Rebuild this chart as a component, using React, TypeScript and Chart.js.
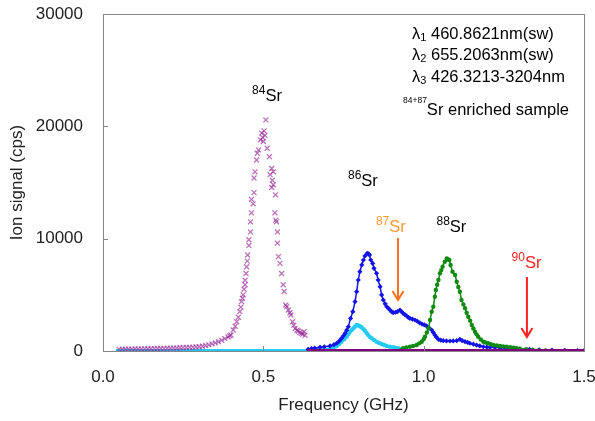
import { useEffect, useRef } from "react";
import { Chart, registerables } from "chart.js";
Chart.register(...registerables);

const FONT = "'Liberation Sans', Arial, sans-serif";

const xTickValues = [0, 0.5, 1.0, 1.5];
const yTickValues = [0, 10000, 20000, 30000];

// 84Sr (purple crosses)
const sr84: [number, number][] = [
  [0.05, 150], [0.06, 155], [0.07, 160], [0.08, 165], [0.09, 170], [0.10, 180], [0.11, 185], [0.12, 190],
  [0.13, 195], [0.14, 200], [0.15, 210], [0.16, 215], [0.17, 220], [0.18, 230], [0.19, 235], [0.20, 240],
  [0.21, 250], [0.22, 260], [0.23, 270], [0.24, 285], [0.25, 300], [0.26, 310], [0.27, 325], [0.28, 340],
  [0.29, 360], [0.30, 380], [0.31, 420], [0.32, 480], [0.33, 550], [0.34, 640], [0.35, 720], [0.36, 820],
  [0.37, 950], [0.38, 1100], [0.39, 1250], [0.395, 1350], [0.399, 1420], [0.406, 1870], [0.412, 2200],
  [0.417, 2600], [0.422, 3000], [0.427, 3500], [0.430, 3900], [0.432, 4400], [0.435, 4700], [0.437, 5000],
  [0.440, 5500], [0.443, 5900], [0.443, 6300], [0.446, 6900], [0.448, 7500], [0.450, 8000], [0.451, 8550],
  [0.455, 9400], [0.455, 9900], [0.460, 10600], [0.460, 11500], [0.463, 12300], [0.468, 13100],
  [0.463, 13500], [0.471, 14100], [0.471, 15400], [0.474, 15950], [0.479, 17000], [0.481, 17600],
  [0.485, 17900], [0.491, 18800], [0.495, 19400], [0.498, 19000], [0.500, 18650], [0.502, 19600],
  [0.505, 19200], [0.508, 20570], [0.512, 18050], [0.519, 17300], [0.521, 15700], [0.526, 16250],
  [0.531, 15950], [0.528, 15200], [0.531, 14800], [0.526, 14550], [0.538, 13900], [0.536, 12300],
  [0.539, 11650], [0.541, 11500], [0.544, 10600], [0.544, 9600], [0.547, 8400], [0.552, 7800],
  [0.557, 6900], [0.562, 5900], [0.565, 5300], [0.570, 4100], [0.573, 3950], [0.578, 3650], [0.583, 3400],
  [0.586, 3200], [0.591, 2600], [0.595, 2300], [0.599, 2000], [0.605, 1850], [0.609, 1780], [0.614, 1650],
  [0.619, 1570], [0.623, 1500], [0.627, 1720], [0.630, 1400],
];

// cyan series
const cyanPeak: [number, number][] = [
  [0.65, 60], [0.67, 90], [0.69, 150], [0.71, 250], [0.72, 340], [0.729, 450], [0.737, 620], [0.744, 830],
  [0.752, 1050], [0.76, 1270], [0.765, 1500], [0.77, 1720], [0.776, 1880], [0.781, 2020], [0.786, 2180],
  [0.791, 2320], [0.796, 2280], [0.80, 2230], [0.804, 2150], [0.807, 2100], [0.812, 1950], [0.817, 1810],
  [0.822, 1600], [0.827, 1420], [0.832, 1260], [0.838, 1130], [0.845, 980], [0.853, 830], [0.861, 720],
  [0.869, 620], [0.877, 530], [0.885, 450], [0.895, 380], [0.905, 330], [0.912, 280], [0.92, 240], [0.93, 150],
];

// blue series
const bluePeak: [number, number][] = [
  [0.640, 150], [0.650, 220], [0.660, 260], [0.677, 330], [0.690, 380], [0.708, 450], [0.720, 560],
  [0.729, 690], [0.737, 900], [0.744, 1130], [0.750, 1350], [0.755, 1570], [0.760, 1850], [0.765, 2160],
  [0.772, 2900], [0.779, 3500], [0.786, 4390], [0.791, 5280], [0.796, 6320], [0.801, 7060], [0.807, 7660],
  [0.812, 8100], [0.817, 8460], [0.824, 8700], [0.828, 8650], [0.831, 8550], [0.835, 8100], [0.841, 7800],
  [0.845, 7360], [0.853, 6920], [0.858, 6320], [0.864, 5730], [0.869, 4990], [0.874, 4540], [0.880, 4200],
  [0.885, 3940], [0.890, 3800], [0.895, 3650], [0.900, 3500], [0.905, 3410], [0.912, 3450], [0.918, 3500],
  [0.926, 3650], [0.931, 3500], [0.936, 3350], [0.941, 3250], [0.947, 3120], [0.952, 3000], [0.957, 2910],
  [0.965, 2830], [0.973, 2760], [0.980, 2650], [0.988, 2500], [0.995, 2400], [1.002, 2330], [1.009, 2230],
  [1.017, 2050], [1.025, 1870], [1.030, 1650], [1.035, 1420], [1.040, 1230], [1.046, 1040], [1.053, 960],
  [1.061, 920], [1.071, 900], [1.082, 890], [1.092, 900], [1.103, 920], [1.113, 1040], [1.120, 930],
  [1.129, 830], [1.137, 760], [1.144, 690], [1.155, 610], [1.165, 530], [1.175, 450], [1.186, 380],
  [1.197, 350], [1.207, 330], [1.222, 310], [1.238, 290], [1.254, 260], [1.269, 240], [1.285, 210],
  [1.300, 180], [1.33, 140], [1.36, 110], [1.40, 80], [1.44, 60], [1.48, 40], [1.50, 30],
];

// green series
const greenPeak: [number, number][] = [
  [0.930, 100], [0.936, 240], [0.946, 310], [0.957, 380], [0.967, 450], [0.978, 530], [0.986, 680],
  [0.994, 830], [1.000, 1050], [1.004, 1270], [1.010, 1650], [1.015, 2020], [1.020, 2760], [1.025, 3500],
  [1.030, 3940], [1.035, 4840], [1.038, 5430], [1.042, 5900], [1.046, 6320], [1.051, 6920], [1.055, 7200],
  [1.059, 7510], [1.066, 7950], [1.072, 8250], [1.076, 8150], [1.080, 8100], [1.084, 7660], [1.090, 7060],
  [1.098, 6770], [1.103, 6170], [1.108, 5700], [1.113, 5280], [1.118, 4540], [1.124, 4150], [1.129, 3800],
  [1.134, 3400], [1.139, 3050], [1.145, 2700], [1.150, 2320], [1.155, 2000], [1.160, 1720], [1.165, 1480],
  [1.170, 1270], [1.178, 1030], [1.186, 830], [1.193, 760], [1.201, 690], [1.209, 610], [1.217, 530],
  [1.228, 490], [1.238, 450], [1.248, 410], [1.259, 380], [1.270, 330], [1.280, 290], [1.290, 250],
  [1.300, 200], [1.32, 160], [1.34, 120], [1.36, 80], [1.38, 50],
];

const cyanBase: [number, number][] = [[0.04, 0], [0.65, 0]];
const purpleBase: [number, number][] = [[0.635, 0], [1.5, 0]];

// isotope labels: mass number, left x and baseline y in data units
const isoMasses = ["84", "86", "87", "88", "90"];
const isoX = [0.465, 0.764, 0.851, 1.040, 1.274];
const isoY = [22260, 14700, 10620, 10620, 7360];
const isoColors = ["#000000", "#000000", "#ff9a30", "#000000", "#ff2020"];

// arrows: x, start y, end y in data units
const arrowX = [0.92, 1.322];
const arrowFrom = [10060, 6590];
const arrowTo = [4540, 1250];
const arrowColors = ["#ff7020", "#ff2020"];

const lambdaSubs = ["1", "2", "3"];
const lambdaTexts = ["460.8621nm(sw)", "655.2063nm(sw)", "426.3213-3204nm"];
const sampleSup = "84+87";
const sampleText = "Sr enriched sample";

const toPts = (a: [number, number][]) => a.map(([x, y]) => ({ x, y }));

const decorPlugin = {
  id: "decor",
  afterDatasetsDraw(chart: any) {
    const { ctx, chartArea, scales } = chart;
    const xs = scales.x;
    const ys = scales.y;
    ctx.save();
    // frame
    ctx.strokeStyle = "#868686";
    ctx.lineWidth = 1;
    ctx.strokeRect(
      Math.round(chartArea.left) + 0.5,
      Math.round(chartArea.top) + 0.5,
      Math.round(chartArea.right - chartArea.left),
      Math.round(chartArea.bottom - chartArea.top)
    );
    // inward ticks
    ctx.beginPath();
    xTickValues.forEach((v) => {
      const px = Math.round(xs.getPixelForValue(v)) + 0.5;
      ctx.moveTo(px, chartArea.bottom);
      ctx.lineTo(px, chartArea.bottom - 5);
    });
    yTickValues.forEach((v) => {
      const py = Math.round(ys.getPixelForValue(v)) + 0.5;
      ctx.moveTo(chartArea.left, py);
      ctx.lineTo(chartArea.left + 5, py);
    });
    ctx.stroke();

    // isotope labels
    ctx.textBaseline = "alphabetic";
    ctx.textAlign = "left";
    isoMasses.forEach((m, i) => {
      const px = xs.getPixelForValue(isoX[i]);
      const py = ys.getPixelForValue(isoY[i]);
      ctx.fillStyle = isoColors[i];
      ctx.font = `12px ${FONT}`;
      ctx.fillText(m, px, py - 7);
      const w = ctx.measureText(m).width;
      ctx.font = `16.5px ${FONT}`;
      ctx.fillText("Sr", px + w, py);
    });

    // arrows
    arrowX.forEach((ax, i) => {
      const px = xs.getPixelForValue(ax);
      const p1 = ys.getPixelForValue(arrowFrom[i]);
      const p2 = ys.getPixelForValue(arrowTo[i]);
      ctx.strokeStyle = arrowColors[i];
      ctx.lineWidth = 2;
      ctx.beginPath();
      ctx.moveTo(px, p1);
      ctx.lineTo(px, p2);
      ctx.moveTo(px - 5.5, p2 - 9);
      ctx.lineTo(px, p2);
      ctx.lineTo(px + 5.5, p2 - 9);
      ctx.stroke();
    });

    // legend text block
    ctx.fillStyle = "#000000";
    const lx = chartArea.right - 172;
    const baselines = [25, 46, 68];
    lambdaTexts.forEach((t, i) => {
      const by = chartArea.top + baselines[i];
      ctx.font = `16.5px ${FONT}`;
      ctx.fillText("\u03bb", lx, by);
      let x = lx + ctx.measureText("\u03bb").width;
      ctx.font = `11px ${FONT}`;
      ctx.fillText(lambdaSubs[i], x, by + 2);
      x += ctx.measureText(lambdaSubs[i]).width;
      ctx.font = `16.5px ${FONT}`;
      ctx.fillText(" " + t, x, by);
    });
    const sy = chartArea.top + 101;
    const sx = chartArea.right - 181;
    ctx.font = `8.5px ${FONT}`;
    ctx.fillText(sampleSup, sx, sy - 12);
    const sw = ctx.measureText(sampleSup).width;
    ctx.font = `16.5px ${FONT}`;
    ctx.fillText(sampleText, sx + sw, sy);
    ctx.restore();
  },
};

export default function App() {
  const ref = useRef<HTMLCanvasElement | null>(null);
  useEffect(() => {
    if (!ref.current) return;
    Chart.defaults.font.family = FONT;
    const chart = new Chart(ref.current, {
      type: "scatter",
      data: {
        datasets: [
          {
            label: "purple base",
            data: toPts(purpleBase),
            showLine: true,
            borderColor: "#800080",
            borderWidth: 4,
            pointRadius: 0,
            order: 0,
          },
          {
            label: "84Sr",
            data: toPts(sr84),
            pointStyle: "crossRot",
            pointRadius: 3.5,
            pointBorderWidth: 1.3,
            borderColor: "rgba(150, 40, 150, 0.65)",
            backgroundColor: "rgba(150, 40, 150, 0.65)",
            showLine: false,
            order: 1,
          },
          {
            label: "green",
            data: toPts(greenPeak),
            showLine: true,
            borderWidth: 1.5,
            borderColor: "#128a12",
            backgroundColor: "#128a12",
            pointRadius: 2.2,
            pointBorderWidth: 0,
            order: 2,
          },
          {
            label: "blue",
            data: toPts(bluePeak),
            showLine: true,
            borderWidth: 1.5,
            borderColor: "#1414e6",
            backgroundColor: "#1414e6",
            pointStyle: "rectRot",
            pointRadius: 2.6,
            pointBorderWidth: 0,
            order: 3,
          },
          {
            label: "cyan",
            data: toPts(cyanPeak),
            showLine: true,
            borderWidth: 2,
            borderColor: "#22cbf5",
            backgroundColor: "#22cbf5",
            pointRadius: 2.2,
            pointBorderWidth: 0,
            order: 4,
          },
          {
            label: "cyan base",
            data: toPts(cyanBase),
            showLine: true,
            borderColor: "#22cbf5",
            borderWidth: 4,
            pointRadius: 0,
            order: 5,
          },
        ],
      },
      options: {
        animation: false,
        responsive: false,
        devicePixelRatio: 1,
        layout: { padding: { top: 14, right: 11, left: 0, bottom: 0 } },
        plugins: { legend: { display: false }, tooltip: { enabled: false } },
        scales: {
          x: {
            type: "linear",
            min: 0,
            max: 1.5,
            afterFit: (s: any) => {
              s.height = 70;
              s.paddingLeft = 0;
              s.paddingRight = 0;
            },
            afterBuildTicks: (s: any) => {
              s.ticks = xTickValues.map((v) => ({ value: v }));
            },
            ticks: {
              padding: 16,
              color: "#222222",
              font: { size: 17, family: FONT },
              callback: (v: any) => Number(v).toFixed(1),
            },
            grid: { display: false, drawTicks: false },
            border: { display: false },
            title: {
              display: true,
              text: "Frequency (GHz)",
              color: "#222222",
              font: { size: 17, family: FONT },
              padding: { top: 0, bottom: 5 },
            },
          },
          y: {
            type: "linear",
            min: 0,
            max: 30000,
            afterFit: (s: any) => {
              s.width = 103;
              s.paddingTop = 0;
              s.paddingBottom = 0;
            },
            afterBuildTicks: (s: any) => {
              s.ticks = yTickValues.map((v) => ({ value: v }));
            },
            ticks: {
              padding: 20,
              color: "#222222",
              font: { size: 17, family: FONT },
              callback: (v: any) => String(v),
            },
            grid: { display: false, drawTicks: false },
            border: { display: false },
            title: {
              display: true,
              text: "Ion signal (cps)",
              color: "#222222",
              font: { size: 17, family: FONT },
              padding: { top: 7, bottom: 0 },
            },
          },
        },
      },
      plugins: [decorPlugin],
    });
    return () => chart.destroy();
  }, []);
  return (
    <div style={{ position: "fixed", left: 0, top: 0, width: 595, height: 421, background: "#fff" }}>
      <canvas ref={ref} width={595} height={421} style={{ width: 595, height: 421, display: "block" }} />
    </div>
  );
}
